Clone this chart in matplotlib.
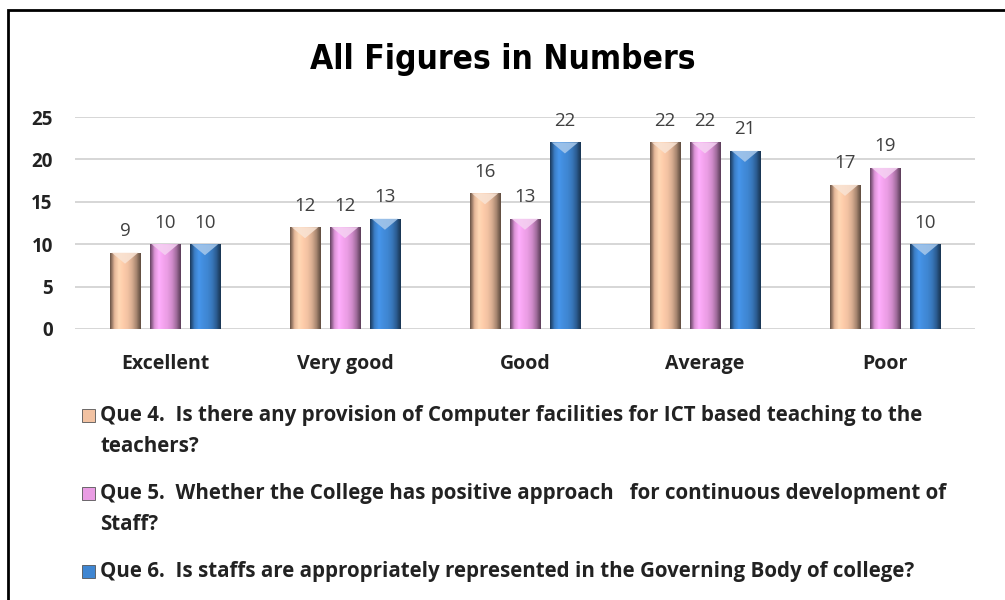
import numpy as np
import matplotlib.pyplot as plt
from matplotlib.patches import Rectangle
from matplotlib.colors import to_rgb

categories = ['Excellent', 'Very good', 'Good', 'Average', 'Poor']
que4 = [9, 12, 16, 22, 17]
que5 = [10, 12, 13, 22, 19]
que6 = [10, 13, 22, 21, 10]
series_labels = [
    'Que 4.  Is there any provision of Computer facilities for ICT based teaching to the\nteachers?',
    'Que 5.  Whether the College has positive approach   for continuous development of\nStaff?',
    'Que 6.  Is staffs are appropriately represented in the Governing Body of college?',
]
yticks = [0, 5, 10, 15, 20, 25]

colors = ['#F2C2A2', '#E99CE3', '#3F86D2']

plt.rcParams['font.family'] = ['Open Sans', 'DejaVu Sans']

fig = plt.figure(figsize=(10.05, 6), dpi=100)
ax = fig.add_axes([0.0746, 0.4517, 0.8955, 0.3533])

def shade(c):
    # horizontal bevel: dark rim, light left, base colour, dark right
    r = np.array(to_rgb(c))
    stops = [0.45, 0.95, 1.12, 1.05, 1.0, 0.9, 0.7, 0.4]
    cols = [np.clip(r * s, 0, 1) for s in stops]
    xs = np.linspace(0, 1, len(stops))
    t = np.linspace(0, 1, 40)
    img = np.stack([np.interp(t, xs, [cc[k] for cc in cols]) for k in range(3)], axis=-1)
    return img[None, :, :]

def tint(c, f=0.55):
    r = np.array(to_rgb(c))
    return tuple(r + (1 - r) * f)

x = np.arange(len(categories))
w = 0.167
step = 0.222
for i, (vals, c) in enumerate(zip([que4, que5, que6], colors)):
    b = ax.bar(x + (i - 1) * step, vals, w, color=c, linewidth=0, zorder=3)
    for p, v in zip(b.patches, vals):
        x0, x1 = p.get_x(), p.get_x() + p.get_width()
        im = ax.imshow(shade(c), extent=(x0, x1, 0, v),
                       aspect='auto', zorder=3.5, interpolation='bilinear')
        im.set_clip_path(p)
        # light bevel notch on the top face
        ax.fill([x0 + 0.01, x1 - 0.01, (x0 + x1) / 2], [v, v, v - 1.3],
                color=tint(c), alpha=0.85, linewidth=0, zorder=3.7)
        ax.annotate(str(v), ((x0 + x1) / 2, v), xytext=(0, 9),
                    textcoords='offset points', ha='center', va='bottom',
                    fontsize=13.5, color='#404040', annotation_clip=False, zorder=4)

ax.set_xlim(-0.5, len(categories) - 0.5)
ax.set_ylim(0, 25)
ax.set_yticks(yticks)
ax.set_yticklabels([str(t) for t in yticks], fontsize=13.5, fontweight='bold', color='#222222')
ax.set_xticks(x)
ax.set_xticklabels(categories, fontsize=14, fontweight='bold', color='#222222')
ax.tick_params(axis='x', length=0, pad=18)
ax.tick_params(axis='y', length=0, pad=16)
ax.grid(axis='y', color='#D0D0D0', linewidth=1.2, zorder=0)
for s in ax.spines.values():
    s.set_visible(False)

fig.text(0.5, 0.9, 'All Figures in Numbers', ha='center', va='center',
         fontsize=24, fontweight='bold', fontstretch='condensed',
         family=['DejaVu Sans'])

# legend drawn by hand so the key sits on the first line of each label
y0 = 1 - 415 / 600
line_h = 32 / 600
gap = 46 / 600
yy = y0
for c, lab in zip(colors, series_labels):
    fig.patches.append(Rectangle((82 / 1005, yy - 6.5 / 600), 13 / 1005, 13 / 600,
                                 transform=fig.transFigure, facecolor=c,
                                 edgecolor='#555555', linewidth=0.6))
    lines = lab.split('\n')
    for k, ln in enumerate(lines):
        fig.text(100 / 1005, yy, ln, ha='left', va='center', fontsize=14.8,
                 fontweight='bold', color='#222222')
        if k < len(lines) - 1:
            yy -= line_h
    yy -= gap

# chart frame
fig.patches.append(Rectangle((8 / 1005, -0.1), 1.1, 0.1 + 1 - 10 / 600, transform=fig.transFigure,
                             fill=False, edgecolor='black', linewidth=2))

fig.savefig('out.png', dpi=100)
